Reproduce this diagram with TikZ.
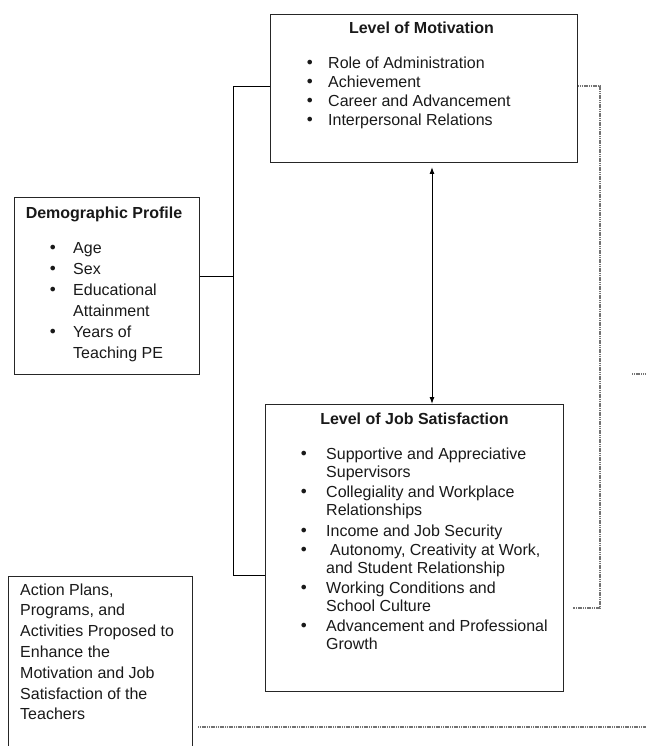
\documentclass[tikz,border=0pt]{standalone}
\usepackage{fontspec}
\setmainfont{Liberation Sans}
\newfontfamily\bulfont{DejaVu Sans}
\usetikzlibrary{arrows.meta}
\newcommand{\mybul}{{\bulfont\symbol{"2022}}}
\begin{document}
\begin{tikzpicture}[x=1pt,y=-1pt,
  box/.style={draw=black!85,line width=1.1pt,inner sep=0pt,anchor=north west},
  ttl/.style={anchor=base,inner sep=0pt,font=\fontsize{16}{19}\selectfont\bfseries,text=black!90},
  lst/.style={anchor=base west,inner sep=0pt,text=black!90},
  conn/.style={draw=black,line width=0.9pt},
  dotl/.style={draw=black!55,line width=1.1pt,dash pattern=on 1.2pt off 0.6pt},
  biarrow/.style={draw=black,line width=1pt,{Latex[length=7pt,width=5pt]}-{Latex[length=7pt,width=5pt]}}]
\useasboundingbox (0,0) rectangle (646,746);
\clip (0,0) rectangle (646,746);

% boxes
\node[box,minimum width=307pt,minimum height=148pt] (mot) at (270,14) {};
\node[box,minimum width=185pt,minimum height=177pt] (demo) at (14,197) {};
\node[box,minimum width=298pt,minimum height=287pt] (job) at (265,404) {};
\node[box,minimum width=184pt,minimum height=200pt] (act) at (8,576) {};

% titles
\node[ttl] (motT) at (421.5,34) {Level of Motivation};
\node[ttl] (demoT) at (104,218) {Demographic Profile};
\node[ttl] (jobT) at (414.5,424) {Level of Job Satisfaction};

% lists
\node[lst,font=\fontsize{16}{19}\selectfont] (motL) at (305,69) {%
\begin{tabular}[t]{@{}p{23pt}@{}l@{}}
\mybul & Role of Administration\\
\mybul & Achievement\\
\mybul & Career and Advancement\\
\mybul & Interpersonal Relations
\end{tabular}};

\node[lst,font=\fontsize{16}{21}\selectfont] (demoL) at (48,253) {%
\begin{tabular}[t]{@{}p{25pt}@{}l@{}}
\mybul & Age\\
\mybul & Sex\\
\mybul & Educational\\
 & Attainment\\
\mybul & Years of\\
 & Teaching PE
\end{tabular}};

\node[lst,font=\fontsize{16}{18}\selectfont] (jobL) at (299,459) {%
\begin{tabular}[t]{@{}p{27pt}@{}l@{}}
\mybul & Supportive and Appreciative\\
 & Supervisors\\[2.5pt]
\mybul & Collegiality and Workplace\\
 & Relationships\\[2.5pt]
\mybul & Income and Job Security\\[1.5pt]
\mybul & \hspace{4pt}Autonomy, Creativity at Work,\\
 & and Student Relationship\\[2pt]
\mybul & Working Conditions and\\
 & School Culture\\[2pt]
\mybul & Advancement and Professional\\
 & Growth
\end{tabular}};

\node[lst,font=\fontsize{16}{20.8}\selectfont] (actL) at (20,595) {%
\begin{tabular}[t]{@{}l@{}}
Action Plans,\\
Programs, and\\
Activities Proposed to\\
Enhance the\\
Motivation and Job\\
Satisfaction of the\\
Teachers
\end{tabular}};

% solid connectors
\coordinate (tTop) at (233,86);
\coordinate (tMid) at (233,276);
\coordinate (tBot) at (233,575);
\draw[conn] (tTop -| mot.west) -- (tTop) -- (tBot) -- (tBot -| job.west);
\draw[conn] (tMid -| demo.east) -- (tMid);

% double arrow
\coordinate (aTop) at (432,167);
\draw[biarrow] (aTop) -- (aTop |- job.north);

% dotted feedback lines
\coordinate (dTop) at (600,86);
\coordinate (dBot) at (600,608);
\coordinate (dEnd) at (573,608);
\draw[dotl] (dTop -| mot.east) -- (dTop) -- (dBot) -- (dEnd);
\coordinate (sA) at (632,374);
\coordinate (sB) at (646,374);
\draw[dotl] (sA) -- (sB);
\coordinate (bA) at (198,727);
\coordinate (bB) at (646,727);
\draw[dotl] (bA) -- (bB);
\end{tikzpicture}
\end{document}
